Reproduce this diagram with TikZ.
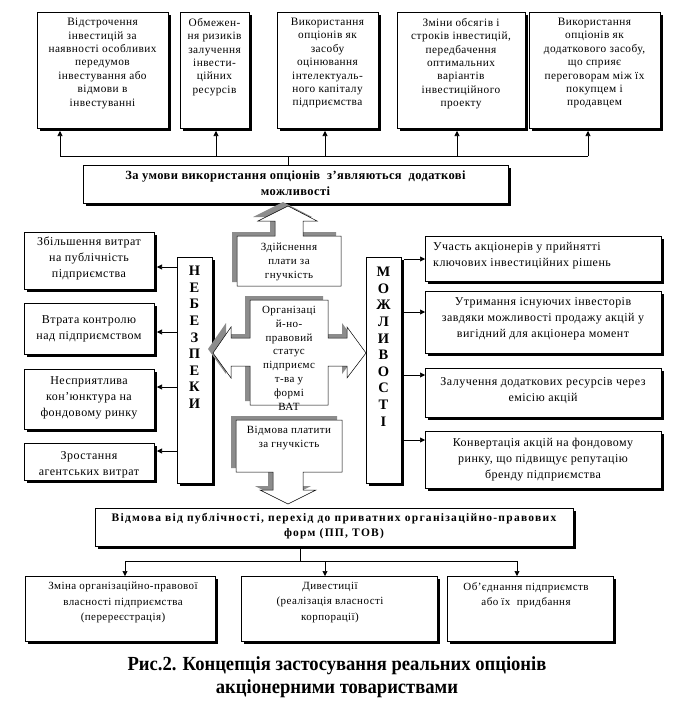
\documentclass[tikz,border=0pt]{standalone}
\usepackage{fontspec}
\setmainfont{Liberation Serif}
\newfontfamily\sfa[LetterSpace=4]{Liberation Serif}
\newfontfamily\sfb[LetterSpace=3]{Liberation Serif}
\newfontfamily\sfc[LetterSpace=11]{Liberation Serif}
\newfontfamily\capf[FakeStretch=0.93]{Liberation Serif}
\usetikzlibrary{arrows.meta,shadows,fit,calc}
\begin{document}
\begin{tikzpicture}[x=1pt,y=-1pt,
  box/.style={draw, line width=0.7pt, fill=white, inner sep=0pt, outer sep=0pt,
    drop shadow={shadow xshift=3pt,shadow yshift=-3pt,fill=black,opacity=1}},
  blk/.style={draw, line width=0.5pt, fill=white,
    preaction={fill=black!45, transform canvas={shift={(-5pt,4pt)}}}},
  arr/.style={-{Triangle[length=5pt,width=5pt]}, line width=0.6pt},
  ln/.style={line width=0.6pt},
  topt/.style={font=\sfa\fontsize{11.3}{13.4}\selectfont, align=center, inner sep=0pt, anchor=north},
  sidet/.style={font=\sfa\fontsize{12}{15.8}\selectfont, align=center, inner sep=0pt},
  midt/.style={font=\sfa\fontsize{11}{14}\selectfont, align=center, inner sep=0pt},
  bott/.style={font=\sfa\fontsize{11}{15.5}\selectfont, align=center, inner sep=0pt, anchor=north},
  lett/.style={font=\bfseries\fontsize{14.5}{16.6}\selectfont, align=center, inner sep=0pt, anchor=north},
  bandt/.style={font=\sfb\bfseries\fontsize{12.5}{16}\selectfont, align=center, inner sep=0pt},
  bandu/.style={font=\sfc\bfseries\fontsize{11.5}{15}\selectfont, align=center, inner sep=0pt},
]
\fill[white] (0,0) rectangle (673,709);
\useasboundingbox (0,0) rectangle (673,709);

% ---- top boxes
\node[box, fit={(37,12)(168,128)}] (t1) {};
\node[box, fit={(180,12)(249,128)}] (t2) {};
\node[box, fit={(277,12)(378,128)}] (t3) {};
\node[box, fit={(397,12)(525,128)}] (t4) {};
\node[box, fit={(529,12)(660,128)}] (t5) {};
\node[topt] (t1x) at ($(t1.north)+(0,6)$) {Відстрочення\\інвестицій за\\наявності особливих\\передумов\\інвестування або\\відмови в\\інвестуванні};
\node[topt] (t2x) at ($(t2.north)+(0,6)$) {Обмежен-\\ня ризиків\\залучення\\інвести-\\ційних\\ресурсів};
\node[topt] (t3x) at ($(t3.north)+(0,6)$) {Використання\\опціонів як\\засобу\\оцінювання\\інтелектуаль-\\ного капіталу\\підприємства};
\node[topt] (t4x) at ($(t4.north)+(0,6)$) {Зміни обсягів і\\строків інвестицій,\\передбачення\\оптимальних\\варіантів\\інвестиційного\\проекту};
\node[topt] (t5x) at ($(t5.north)+(0,6)$) {Використання\\опціонів як\\додаткового засобу,\\що сприяє\\переговорам між їх\\покупцем і\\продавцем};

% ---- band 1
\node[box, fit={(83,165)(508,203)}] (b1) {};
\node[bandt] (b1x) at ($(b1.center)+(0,-1)$) {За умови використання опціонів \ з’являються \ додаткові\\можливості};

% top connectors
\coordinate (j0) at (288,156);
\coordinate (j1) at (60,156);
\coordinate (j2) at (216,156);
\coordinate (j3) at (325,156);
\coordinate (j4) at (457,156);
\coordinate (j5) at (588,156);
\draw[ln] (j1) -- (j5);
\draw[ln] (j0 |- b1.north) -- (j0);
\foreach \j/\t in {j1/t1,j2/t2,j3/t3,j4/t4,j5/t5}
  \draw[arr] (\j) -- ($(\j |- \t.south)+(0,3)$);

% ---- side columns
\node[box, fit={(177,257)(212,483)}] (nb) {};
\node[box, fit={(366,257)(401,483)}] (mz) {};
\node[lett] (nbx) at (194.5,266) {Н\\Е\\Б\\Е\\З\\П\\Е\\К\\И};
\node[lett] (mzx) at (383.5,267) {М\\О\\Ж\\Л\\И\\В\\О\\С\\Т\\І};

% left boxes
\node[box, fit={(24,232)(154,289)}] (l1) {};
\node[box, fit={(24,303)(154,354)}] (l2) {};
\node[box, fit={(24,369)(154,429)}] (l3) {};
\node[box, fit={(24,443)(154,480)}] (l4) {};
\node[sidet] (l1x) at ($(l1.center)+(0,-2)$) {Збільшення витрат\\на публічність\\підприємства};
\node[sidet] (l2x) at ($(l2.center)+(0,0)$) {Втрата контролю\\над підприємством};
\node[sidet] (l3x) at ($(l3.center)+(0,-1)$) {Несприятлива\\кон’юнктура на\\фондовому ринку};
\node[sidet] (l4x) at ($(l4.center)+(0,3)$) {Зростання\\агентських витрат};
\foreach \b/\yy in {l1/267,l2/332,l3/387,l4/451}
  \draw[arr] (nb.west |- 0,\yy) -- ($(\b.east |- 0,\yy)+(3,0)$);

% right boxes
\node[box, fit={(425,236)(661,281)}] (r1) {};
\node[box, fit={(425,291)(661,353)}] (r2) {};
\node[box, fit={(425,368)(661,417)}] (r3) {};
\node[box, fit={(425,431)(661,488)}] (r4) {};
\node[sidet, align=left, anchor=west] (r1x) at ($(r1.west)+(8,-3)$) {Участь акціонерів у прийнятті\\ключових інвестиційних рішень};
\node[sidet] (r2x) at ($(r2.center)+(0,-3)$) {Утримання існуючих інвесторів\\завдяки можливості продажу акцій у\\вигідний для акціонера момент};
\node[sidet] (r3x) at ($(r3.center)+(0,-2)$) {Залучення додаткових ресурсів через\\емісію акцій};
\node[sidet] (r4x) at ($(r4.center)+(0,0)$) {Конвертація акцій на фондовому\\ринку, що підвищує репутацію\\бренду підприємства};
\foreach \b/\yy in {r1/259,r2/312,r3/375,r4/440}
  \draw[arr] ($(mz.east |- 0,\yy)+(3,0)$) -- (\b.west |- 0,\yy);

% ---- center block arrows
\path[blk] (237,286) -- (237,236) -- (275,236) -- (275,221) -- (258,221) -- (288,206)
  -- (317,221) -- (303,221) -- (303,236) -- (341,236) -- (341,286) -- cycle;
\node[midt] (zdx) at (289,262) {Здійснення\\плати за\\гнучкість};

\path[blk] (250,300) -- (328,300) -- (328,338) -- (347,338) -- (347,327) -- (366,353)
  -- (347,378) -- (347,366) -- (328,366) -- (328,405) -- (250,405) -- (250,366)
  -- (231,366) -- (231,378) -- (213,353) -- (231,327) -- (231,338) -- (250,338) -- cycle;
\node[midt, anchor=north, font=\sfa\fontsize{11}{13.8}\selectfont] (orgx) at (289,306) {Організаці\\й-но-\\правовий\\статус\\підприємс\\т-ва у\\формі\\ВАТ};

\path[blk] (236,420) -- (342,420) -- (342,472) -- (303,472) -- (303,490) -- (316,490)
  -- (288,504) -- (260,490) -- (273,490) -- (273,472) -- (236,472) -- cycle;
\node[midt] (vmx) at (289,438) {Відмова платити\\за гнучкість};

% ---- band 2
\node[box, fit={(95,508)(573,546)}] (b2) {};
\node[bandu] (b2x) at ($(b2.center)+(0,-1)$) {Відмова від публічності, перехід до приватних організаційно-правових\\форм (ПП, ТОВ)};

% bottom boxes
\node[box, fit={(25,576)(215,641)}] (c1) {};
\node[box, fit={(241,576)(437,641)}] (c2) {};
\node[box, fit={(447,576)(613,641)}] (c3) {};
\node[bott] (c1x) at ($(c1.north)+(3,6)$) {Зміна організаційно-правової\\власності підприємства\\(перереєстрація)};
\node[bott] (c2x) at ($(c2.north)+(-9,6)$) {Дивестиції\\(реалізація власності\\корпорації)};
\node[bott] (c3x) at ($(c3.north)+(-4,6)$) {Об’єднання підприємств\\або їх \ придбання};

\coordinate (k0) at (300,561);
\coordinate (k1) at (125,561);
\coordinate (k2) at (325,561);
\coordinate (k3) at (517,561);
\draw[ln] (k0 |- b2.south) -- (k0);
\draw[ln] (k1) -- (k3);
\foreach \k/\c in {k1/c1,k2/c2,k3/c3}
  \draw[arr] (\k) -- (\k |- \c.north);

% caption
\node[font=\capf\bfseries\fontsize{20}{23}\selectfont, align=center, inner sep=0pt] (cap) at (337,677)
  {Рис.2. Концепція застосування реальних опціонів\\акціонерними товариствами};
\end{tikzpicture}
\end{document}
